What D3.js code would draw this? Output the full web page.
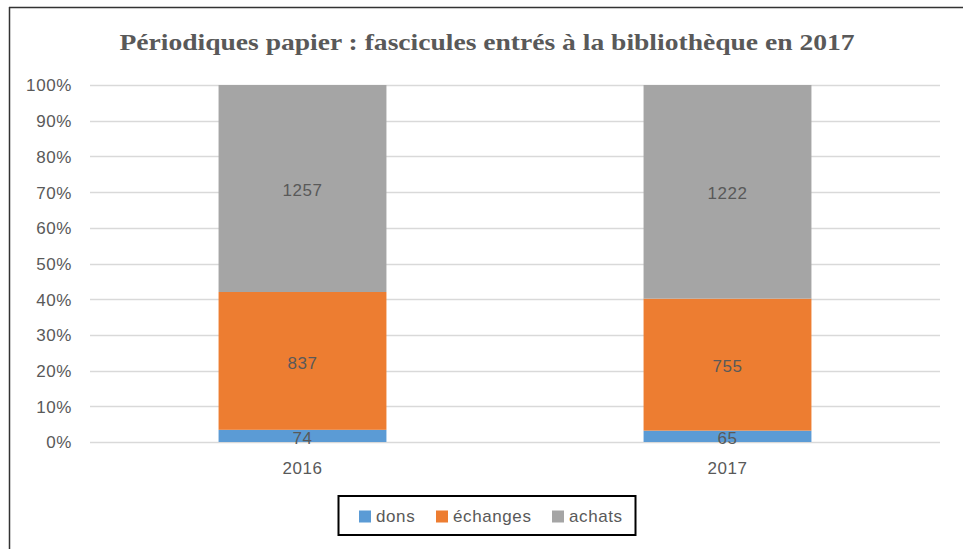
<!DOCTYPE html>
<html>
<head>
<meta charset="utf-8">
<script src="https://cdn.jsdelivr.net/npm/d3@7"></script>
<style>
  body { margin: 0; background: #fff; }
  svg text { font-family: "Liberation Sans", Arial, sans-serif; fill: #595959; }
</style>
</head>
<body>
<svg id="chart" width="963" height="549"></svg>
<script>
// data
const years = ["2016", "2017"];
const series = ["dons", "échanges", "achats"];
const dons = [74, 65];
const echanges = [837, 755];
const achats = [1257, 1222];
const yTicks = [0, 0.1, 0.2, 0.3, 0.4, 0.5, 0.6, 0.7, 0.8, 0.9, 1];
const colors = ["#5B9BD5", "#ED7D31", "#A5A5A5"];

const svg = d3.select("#chart");

// outer frame (top and left edges visible)
svg.append("line").attr("x1", 9).attr("x2", 963).attr("y1", 7.5).attr("y2", 7.5)
    .attr("stroke", "#333").attr("stroke-width", 1.5);
svg.append("line").attr("x1", 9.5).attr("x2", 9.5).attr("y1", 7).attr("y2", 549)
    .attr("stroke", "#333").attr("stroke-width", 1.5);

// title
svg.append("text")
    .attr("x", 487).attr("y", 50)
    .attr("text-anchor", "middle")
    .attr("textLength", 735)
    .attr("lengthAdjust", "spacingAndGlyphs")
    .style("font-family", "'Liberation Serif', 'DejaVu Serif', serif")
    .style("font-weight", "bold")
    .style("font-size", "24px")
    .text("Périodiques papier : fascicules entrés à la bibliothèque en 2017");

const x = d3.scaleBand().domain(years).range([90, 940]).paddingInner(0.605).paddingOuter(0.3025);
const y = d3.scaleLinear().domain([0, 1]).range([442, 85]);

// gridlines
svg.append("g").selectAll("line").data(yTicks).enter().append("line")
    .attr("x1", 90).attr("x2", 940)
    .attr("y1", d => Math.round(y(d)) + 0.5).attr("y2", d => Math.round(y(d)) + 0.5)
    .attr("stroke", "#D9D9D9").attr("stroke-width", 1.5);

// y axis labels
const yAxis = svg.append("g").attr("transform", "translate(80,0)")
    .call(d3.axisLeft(y).tickValues(yTicks).tickFormat(d3.format(".0%")).tickSize(0).tickPadding(8));
yAxis.select(".domain").remove();
yAxis.selectAll("text").style("font-size", "17px").style("letter-spacing", "0.6px")
    .attr("fill", "#595959").attr("dy", "0.35em");

// stack
const rows = years.map((yr, i) => ({ year: yr, "dons": dons[i], "échanges": echanges[i], "achats": achats[i] }));
const stacked = d3.stack().keys(series).offset(d3.stackOffsetExpand)(rows);

const layers = svg.append("g").selectAll("g").data(stacked).enter().append("g")
    .attr("fill", (d, i) => colors[i]);

layers.selectAll("rect").data(d => d.map(p => ({ p, key: d.key }))).enter().append("rect")
    .attr("x", d => x(d.p.data.year))
    .attr("width", x.bandwidth())
    .attr("y", d => y(d.p[1]))
    .attr("height", d => y(d.p[0]) - y(d.p[1]));

// value labels
layers.selectAll("text").data(d => d.map(p => ({ p, key: d.key }))).enter().append("text")
    .attr("x", d => x(d.p.data.year) + x.bandwidth() / 2)
    .attr("y", d => (y(d.p[0]) + y(d.p[1])) / 2)
    .attr("dy", "0.45em")
    .attr("text-anchor", "middle")
    .style("font-size", "17px").style("letter-spacing", "0.6px")
    .attr("fill", "#404040")
    .text(d => d.p.data[d.key]);

// x axis labels
const xAxis = svg.append("g").attr("transform", "translate(0,442)")
    .call(d3.axisBottom(x).tickSize(0).tickPadding(20));
xAxis.select(".domain").remove();
xAxis.selectAll("text").style("font-size", "17px").style("letter-spacing", "0.6px").attr("fill", "#595959");

// legend
svg.append("rect").attr("x", 338.5).attr("y", 496).attr("width", 297).attr("height", 39)
    .attr("fill", "none").attr("stroke", "#000").attr("stroke-width", 2);
const legendX = [359, 436, 552];
const legend = svg.append("g").selectAll("g").data(series).enter().append("g")
    .attr("transform", (d, i) => `translate(${legendX[i]},516.5)`);
legend.append("rect").attr("x", 0).attr("y", -6).attr("width", 12).attr("height", 12)
    .attr("fill", (d, i) => colors[i]);
legend.append("text").attr("x", 17).attr("dy", "0.35em")
    .style("font-size", "17px").style("letter-spacing", "0.6px").text(d => d);
</script>
</body>
</html>
